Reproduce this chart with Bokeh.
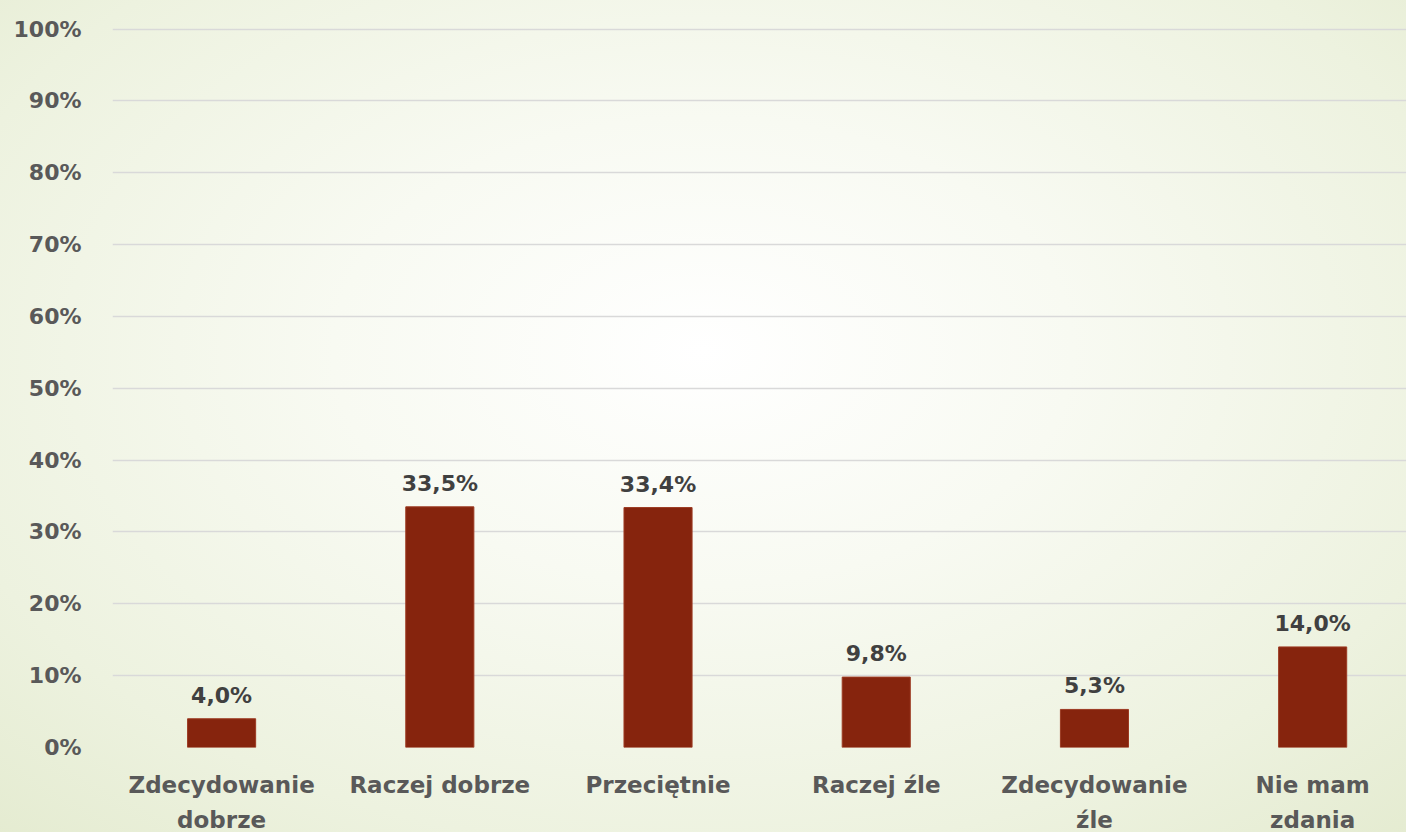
from bokeh.plotting import figure
from bokeh.models import ColumnDataSource, Range1d, FixedTicker, LabelSet
from bokeh.core.properties import value
from bokeh.embed import file_html
from bokeh.resources import INLINE

categories = ["Zdecydowanie\ndobrze", "Raczej dobrze", "Przeciętnie", "Raczej źle",
              "Zdecydowanie\nźle", "Nie mam\nzdania"]
values = [4.0, 33.5, 33.4, 9.8, 5.3, 14.0]
y_ticks = list(range(0, 101, 10))
y_tick_labels = [f"{t}%" for t in y_ticks]

xs = list(range(len(categories)))
labels = [f"{v:.1f}".replace(".", ",") + "%" for v in values]
src = ColumnDataSource(dict(x=xs, top=values, label=labels))

p = figure(frame_width=1294, frame_height=722, output_backend="svg", toolbar_location=None,
           x_range=Range1d(-0.5, 5.43), y_range=Range1d(0, 100.5),
           min_border_left=112, min_border_right=0, min_border_top=25, min_border_bottom=85,
           outline_line_color=None,
           background_fill_alpha=0, border_fill_alpha=0,
           styles={"background": "radial-gradient(ellipse 75% 80% at 50% 42%, #ffffff 0%, #f8faf2 35%, #edf2df 75%, #e4ebd0 100%)"})

p.vbar(x="x", top="top", width=0.312, bottom=0, source=src,
       fill_color="#86240d", line_color="#9c3a22", line_width=1)

p.add_layout(LabelSet(x="x", y="top", text="label", source=src,
                      text_align="center", text_baseline="alphabetic", y_offset=16,
                      text_font=value("DejaVu Sans"), text_font_style="bold",
                      text_font_size="22px", text_color="#404040"))

p.xgrid.grid_line_color = None
p.ygrid.grid_line_color = "#d9d9d9"
p.ygrid.grid_line_width = 1.6
p.ygrid.ticker = FixedTicker(ticks=y_ticks)

p.yaxis.ticker = FixedTicker(ticks=y_ticks)
p.yaxis.major_label_overrides = {t: l for t, l in zip(y_ticks, y_tick_labels)}
p.yaxis.axis_line_color = None
p.yaxis.major_tick_line_color = None
p.yaxis.minor_tick_line_color = None
p.yaxis.major_label_standoff = 25
p.yaxis.major_label_text_font = "DejaVu Sans"
p.yaxis.major_label_text_font_style = "bold"
p.yaxis.major_label_text_font_size = "22px"
p.yaxis.major_label_text_color = "#595959"

p.xaxis.ticker = FixedTicker(ticks=xs)
p.xaxis.major_label_overrides = {x: c for x, c in zip(xs, categories)}
p.xaxis.axis_line_color = None
p.xaxis.major_tick_line_color = None
p.xaxis.minor_tick_line_color = None
p.xaxis.major_label_standoff = 18
p.xaxis.major_label_text_font = "DejaVu Sans"
p.xaxis.major_label_text_font_style = "bold"
p.xaxis.major_label_text_font_size = "23px"
p.xaxis.major_label_text_line_height = 1.38
p.xaxis.major_label_text_color = "#595959"

open("out.html", "w").write(file_html(p, INLINE))
